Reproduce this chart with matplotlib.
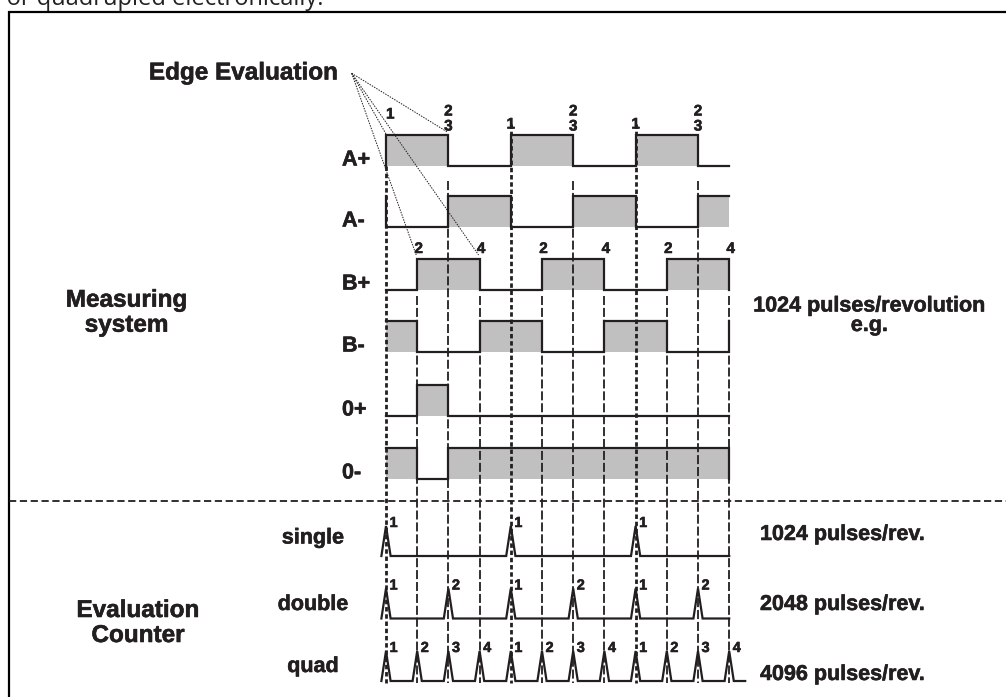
import matplotlib
matplotlib.use("Agg")
import matplotlib.pyplot as plt
import matplotlib.patheffects as pe

# --- data -------------------------------------------------------------
# signal rows: state (1 = high) for each quarter period, 11 quarters
row_names = ['A+', 'A-', 'B+', 'B-', '0+', '0-']
row_states = [
    [1, 1, 0, 0, 1, 1, 0, 0, 1, 1, 0],
    [0, 0, 1, 1, 0, 0, 1, 1, 0, 0, 1],
    [0, 1, 1, 0, 0, 1, 1, 0, 0, 1, 1],
    [1, 0, 0, 1, 1, 0, 0, 1, 1, 0, 0],
    [0, 1, 0, 0, 0, 0, 0, 0, 0, 0, 0],
    [1, 0, 1, 1, 1, 1, 1, 1, 1, 1, 1],
]
row_lead = [True, True, False, False, False, False]   # vertical edge at the start
row_tail = [False, False, True, True, False, True]    # vertical edge at the end

# evaluation counter: quarters with a counting pulse and its number
counter_names = ['single', 'double', 'quad']
counter_pulses = [
    [0, 4, 8],
    [0, 2, 4, 6, 8, 10],
    list(range(12)),
]
counter_labels = [
    ['1', '1', '1'],
    ['1', '2', '1', '2', '1', '2'],
    ['1', '2', '3', '4'] * 3,
]
counter_rates = ['1024 pulses/rev.', '2048 pulses/rev.', '4096 pulses/rev.']

a_edges = [0, 2, 4, 6, 8, 10]
a_labels = ['1', '2', '1', '2', '1', '2']
a_labels2 = ['', '3', '', '3', '', '3']
b_edges = [1, 3, 5, 7, 9, 11]
b_labels = ['2', '4', '2', '4', '2', '4']

# --- layout (pixels) --------------------------------------------------
X0, Q = 386, 31.2
row_low = [166, 227, 290, 352, 416, 479]
AMP = 31
cnt_base = [556, 618.5, 681]
name_base = [543.5, 610, 672]
rate_base = [540, 610, 680]
CNT_H = 30
SPIKE_W = 4.6
INK = '#231f20'
GRAY = '#c0c0c0'
FONT = 'Liberation Sans'
HEAVY = [pe.withStroke(linewidth=0.4, foreground=INK)]

def qx(q):
    return X0 + q * Q

def label(x, y, s, size, **kw):
    ax.text(x, y, s, fontsize=size, family=FONT, weight='bold', color=INK,
            va='baseline', path_effects=HEAVY, **kw)

fig = plt.figure(figsize=(10.06, 6.97), dpi=100)
ax = fig.add_axes([0, 0, 1, 1])
ax.set_xlim(0, 1006)
ax.set_ylim(697, 0)
ax.axis('off')

# caption fragment at the top and frame
ax.text(324, 5, 'd or quadrupled electronically.', fontsize=17, family='Open Sans',
        color='#222222', va='baseline', ha='right')
ax.plot([9, 9, 1010], [700, 12, 12], color='black', lw=1.6, solid_joinstyle='miter')
ax.plot([9, 1006], [501, 501], color=INK, lw=1.3, ls=(0, (4, 2)))

# vertical reference lines
for q in range(12):
    if q % 4 == 0:
        top = 166 if q == 0 else 124
        ax.plot([qx(q), qx(q)], [top, 683], color=INK, lw=2.0, ls=(0, (1.6, 1.0)), zorder=3)
    elif q % 2 == 0:
        ax.plot([qx(q), qx(q)], [181, 683], color=INK, lw=1.3, ls=(0, (5, 1.6)), zorder=3)
    else:
        ax.plot([qx(q), qx(q)], [296, 683], color=INK, lw=1.3, ls=(0, (5, 1.6)), zorder=3)

# signal rows
for name, states, low, lead, tail in zip(row_names, row_states, row_low, row_lead, row_tail):
    high = low - AMP
    xs, ys = [], []
    if lead:
        xs.append(qx(0))
        ys.append(low if states[0] else high)
    for i, s in enumerate(states):
        lvl = high if s else low
        xs += [qx(i), qx(i + 1)]
        ys += [lvl, lvl]
        if s:
            ax.fill_between([qx(i), qx(i + 1)], low, high, color=GRAY, lw=0, zorder=1)
    if tail:
        xs.append(qx(len(states)))
        ys.append(high if not states[-1] else low)
    ax.plot(xs, ys, color=INK, lw=1.6, zorder=4, solid_joinstyle='miter')
    label(342, low - 0.5, name, 15.5, ha='left')

# edge numbers above A+ and B+
for q, lab, lab2 in zip(a_edges, a_labels, a_labels2):
    if q == 0:
        label(qx(q), 118.5, lab, 11, ha='left')
    elif lab2:
        label(qx(q), 115.5, lab, 11, ha='center')
        label(qx(q), 130.5, lab2, 11, ha='center')
    else:
        label(qx(q), 128.5, lab, 11, ha='center')
for q, lab in zip(b_edges, b_labels):
    label(qx(q) + 1.5, 253, lab, 11, ha='center')

# edge evaluation fan
label(243.5, 79.5, 'Edge Evaluation', 17.5, ha='center')
fan_origin = (351.7, 73.3)
fan_targets = [(qx(0), 134), (qx(2) - 1, 132), (qx(1) - 1, 255), (qx(3) - 1, 255)]
for tx, ty in fan_targets:
    ax.plot([fan_origin[0], tx], [fan_origin[1], ty], color=INK, lw=0.7,
            ls=(0, (1.5, 1.2)), zorder=5)

# evaluation counter rows
for name, pulses, labs, base, nb, rate, rb in zip(counter_names, counter_pulses,
                                                  counter_labels, cnt_base, name_base,
                                                  counter_rates, rate_base):
    end = qx(11) + (16 if name == 'quad' else 0)
    xs, ys = [qx(0) - SPIKE_W], [base]
    for q, lab in zip(pulses, labs):
        px = qx(q)
        if q > 0:
            xs.append(px - SPIKE_W)
            ys.append(base)
        xs += [px, px + SPIKE_W]
        ys += [base - CNT_H, base]
        label(px + 3.5, base - CNT_H + 1, lab, 10.5, ha='left')
    xs.append(end)
    ys.append(base)
    ax.plot(xs, ys, color=INK, lw=1.6, zorder=4, solid_joinstyle='miter')
    label(313, nb, name, 15.5, ha='center')
    label(760, rb, rate, 15.5, ha='left')

# group labels
label(126.5, 306.7, 'Measuring', 17.5, ha='center')
label(126.5, 331.7, 'system', 17.5, ha='center')
label(138, 617, 'Evaluation', 17.5, ha='center')
label(138, 642, 'Counter', 17.5, ha='center')
label(869.5, 311.5, '1024 pulses/revolution', 15.5, ha='center')
label(869.5, 331, 'e.g.', 15.5, ha='center')

fig.savefig('out.png', dpi=100)
